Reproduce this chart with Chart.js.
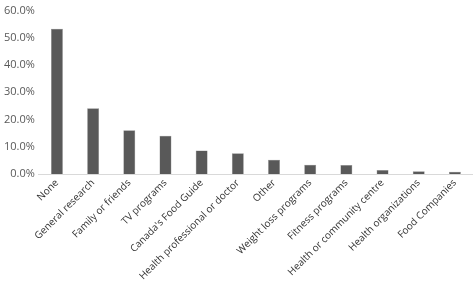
<!DOCTYPE html>
<html>
<head>
<meta charset="utf-8">
<script src="https://cdn.jsdelivr.net/npm/chart.js@4/dist/chart.umd.min.js"></script>
<style>
  html, body { margin: 0; padding: 0; background: #fff; }
  #wrap { width: 473px; height: 285px; }
</style>
</head>
<body>
<div id="wrap"><canvas id="chartSources"></canvas></div>
<script>
var categories = ['None', 'General research', 'Family or friends', 'TV programs',
    "Canada's Food Guide", 'Health professional or doctor', 'Other',
    'Weight loss programs', 'Fitness programs', 'Health or community centre',
    'Health organizations', 'Food Companies'];
var shares = [53.3, 24.1, 16.1, 14.0, 8.6, 7.6, 5.2, 3.4, 3.3, 1.5, 1.0, 0.8];
var yTicks = [0, 10, 20, 30, 40, 50, 60];

var ctx = document.getElementById('chartSources').getContext('2d');
var chart = new Chart(ctx, {
    type: 'bar',
    data: {
        labels: categories,
        datasets: [{
            data: shares,
            backgroundColor: '#595959',
            borderColor: '#8a8a8a',
            borderWidth: 0.5,
            categoryPercentage: 1,
            barPercentage: 0.33
        }]
    },
    options: {
        responsive: true,
        maintainAspectRatio: false,
        animation: false,
        layout: { padding: { top: -4, right: 0, left: 0, bottom: 0 } },
        plugins: { legend: { display: false }, tooltip: { enabled: false } },
        scales: {
            x: {
                grid: { display: false, drawTicks: false },
                border: { display: true, color: '#d9d9d9', width: 1 },
                afterFit: function (axis) { axis.height = 111; },
                ticks: {
                    minRotation: 45, maxRotation: 45, padding: 3,
                    color: '#333333',
                    font: { family: 'Open Sans', size: 10 }
                }
            },
            y: {
                min: 0, max: 60,
                afterBuildTicks: function (axis) {
                    axis.ticks = yTicks.map(function (v) { return { value: v }; });
                },
                grid: { display: false, drawTicks: false },
                border: { display: false },
                ticks: {
                    padding: 4,
                    color: '#595959',
                    font: { family: 'Open Sans', size: 11 },
                    callback: function (value) { return value.toFixed(1) + '%'; }
                }
            }
        }
    }
});
</script>
</body>
</html>
